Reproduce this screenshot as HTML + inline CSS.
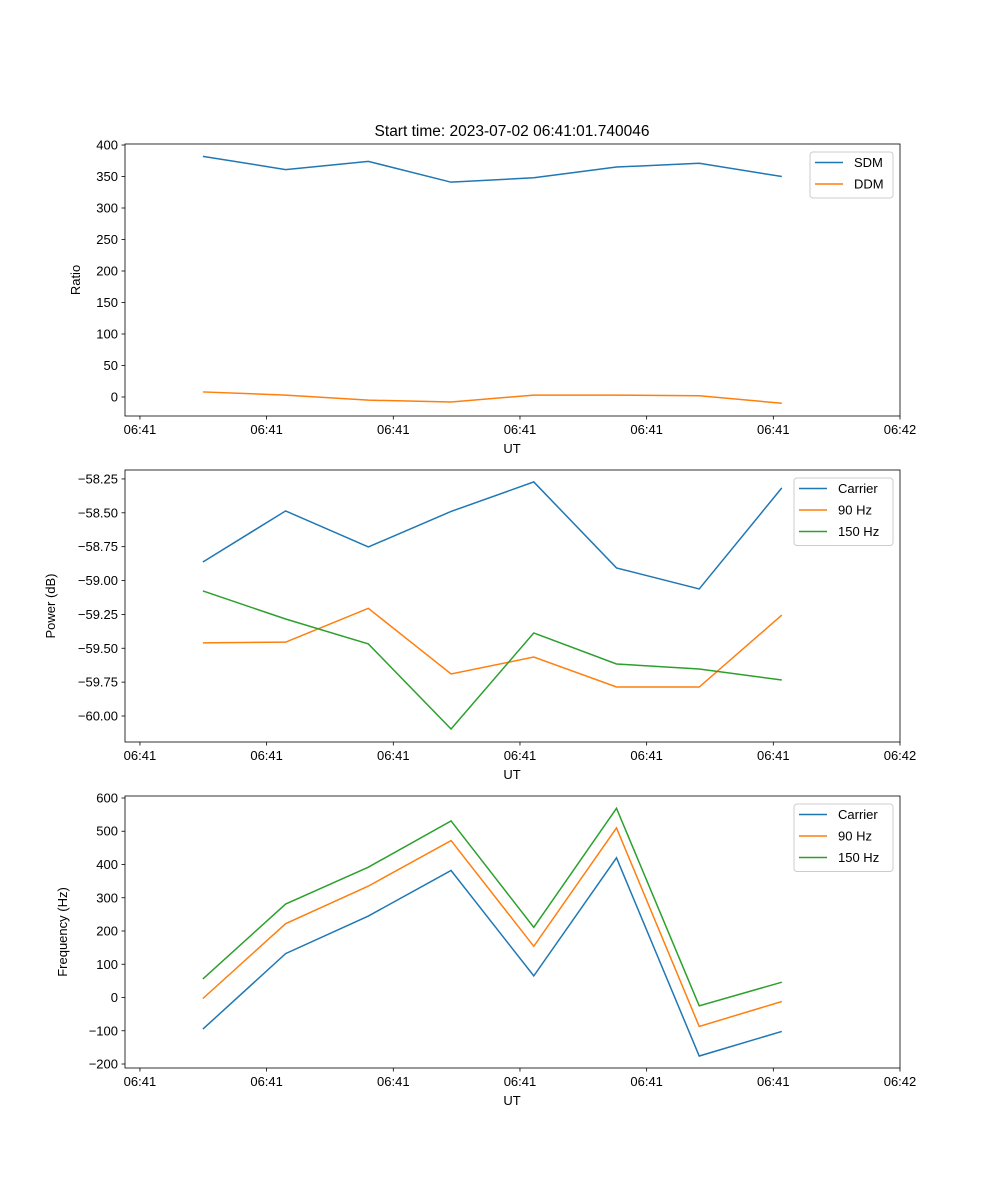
<!DOCTYPE html>
<html><head><meta charset="utf-8"><style>body{margin:0;background:#fff}svg{display:block;font-family:"Liberation Sans","DejaVu Sans",sans-serif}</style></head>
<body>
<svg id="fig" width="1000" height="1200" viewBox="0 0 1000 1200">
<rect width="1000" height="1200" fill="#fff"/>
<text x="512" y="136" font-size="15.5" text-anchor="middle">Start time: 2023-07-02 06:41:01.740046</text>
</svg>
<script>
const xTicks = [0,1,2,3,4,5,6];
const xTickLabels = ["06:41","06:41","06:41","06:41","06:41","06:41","06:42"];
const times = [0.497,1.150,1.803,2.456,3.109,3.762,4.415,5.067];
const ratioTicks = [0,50,100,150,200,250,300,350,400];
const sdm = [382,361,374,341,348,365,371,350];
const ddm = [8,3,-5,-8,3,3,2,-10];
const powerTicks = [-60.0,-59.75,-59.5,-59.25,-59.0,-58.75,-58.5,-58.25];
const powerCarrier = [-58.863,-58.486,-58.752,-58.49,-58.272,-58.907,-59.062,-58.316];
const power90 = [-59.46,-59.455,-59.205,-59.69,-59.565,-59.786,-59.786,-59.255];
const power150 = [-59.077,-59.284,-59.468,-60.096,-59.387,-59.616,-59.653,-59.734];
const freqTicks = [-200,-100,0,100,200,300,400,500,600];
const freqCarrier = [-95,132,245,382,65,420,-176,-102];
const freq90 = [-3,222,335,472,154,510,-87,-12];
const freq150 = [56,281,392,531,211,569,-25,46];

const NS="http://www.w3.org/2000/svg", svg=document.getElementById('fig');
const C=['#1f77b4','#ff7f0e','#2ca02c'];
function el(t,a,p){const e=document.createElementNS(NS,t);for(const k in a)e.setAttribute(k,a[k]);(p||svg).appendChild(e);return e;}
const L=125,R=900,xmin=-0.118,xmax=6.0;
const xs=v=>L+(v-xmin)/(xmax-xmin)*(R-L);
function panel(name,top,bot,ymin,ymax,ticks,fmt,ylabel,series,legend){
  const g=el('g',{});
  
  
  const ys=v=>bot-(v-ymin)/(ymax-ymin)*(bot-top);
  series.forEach((s,i)=>{
    const p=el('polyline',{points:s.d.map((v,j)=>xs(times[j])+','+ys(v)).join(' '),fill:'none',stroke:C[i],'stroke-width':1.5},g);
    
    
  });
  el('rect',{x:L,y:top,width:R-L,height:bot-top,fill:'none',stroke:'#000','stroke-width':0.8},g);
  xTicks.forEach((t,i)=>{const x=xs(t);el('line',{x1:x,x2:x,y1:bot,y2:bot+3.5,stroke:'#000','stroke-width':0.8},g);
    const tx=el('text',{x:x,y:bot+18,'font-size':13,'text-anchor':'middle'},g);tx.textContent=xTickLabels[i];
    
    });
  ticks.forEach(t=>{const y=ys(t);el('line',{x1:L-3.5,x2:L,y1:y,y2:y,stroke:'#000','stroke-width':0.8},g);
    const tx=el('text',{x:L-7,y:y+4.5,'font-size':13,'text-anchor':'end'},g);tx.textContent=fmt(t);
    
    });
  const xl=el('text',{x:512,y:bot+37,'font-size':13,'text-anchor':'middle'},g);xl.textContent='UT';
  
  
  const cy=(top+bot)/2;
  const yl=el('text',{x:0,y:0,'font-size':13,'text-anchor':'middle',transform:`translate(${legend.yx},${cy}) rotate(-90)`},g);yl.textContent=ylabel;
  
  
  const lg=el('g',{},g);
  
  
  const lx=legend.x,lw=R-7-lx,lh=3+series.length*21.5;
  el('rect',{x:lx,y:top+8,width:lw,height:lh,rx:3,fill:'#fff',stroke:'#ccc'},lg);
  series.forEach((s,i)=>{const y=top+18.5+i*21.5;
    el('line',{x1:lx+5,x2:lx+33,y1:y,y2:y,stroke:C[i],'stroke-width':1.5},lg);
    const t=el('text',{x:lx+44,y:y+4.5,'font-size':13},lg);t.textContent=s.n;
    
    });
}
panel('ratio',144,416,-30.2,401.6,ratioTicks,v=>String(v),'Ratio',[{n:'SDM',d:sdm},{n:'DDM',d:ddm}],{x:810,yx:80});
panel('power',470,742,-60.192,-58.184,powerTicks,v=>'\u2212'+Math.abs(v).toFixed(2),'Power (dB)',[{n:'Carrier',d:powerCarrier},{n:'90 Hz',d:power90},{n:'150 Hz',d:power150}],{x:794,yx:55});
panel('frequency',796,1068,-212,606,freqTicks,v=>(v<0?'\u2212':'')+Math.abs(v),'Frequency (Hz)',[{n:'Carrier',d:freqCarrier},{n:'90 Hz',d:freq90},{n:'150 Hz',d:freq150}],{x:794,yx:67});
</script>
</body></html>
